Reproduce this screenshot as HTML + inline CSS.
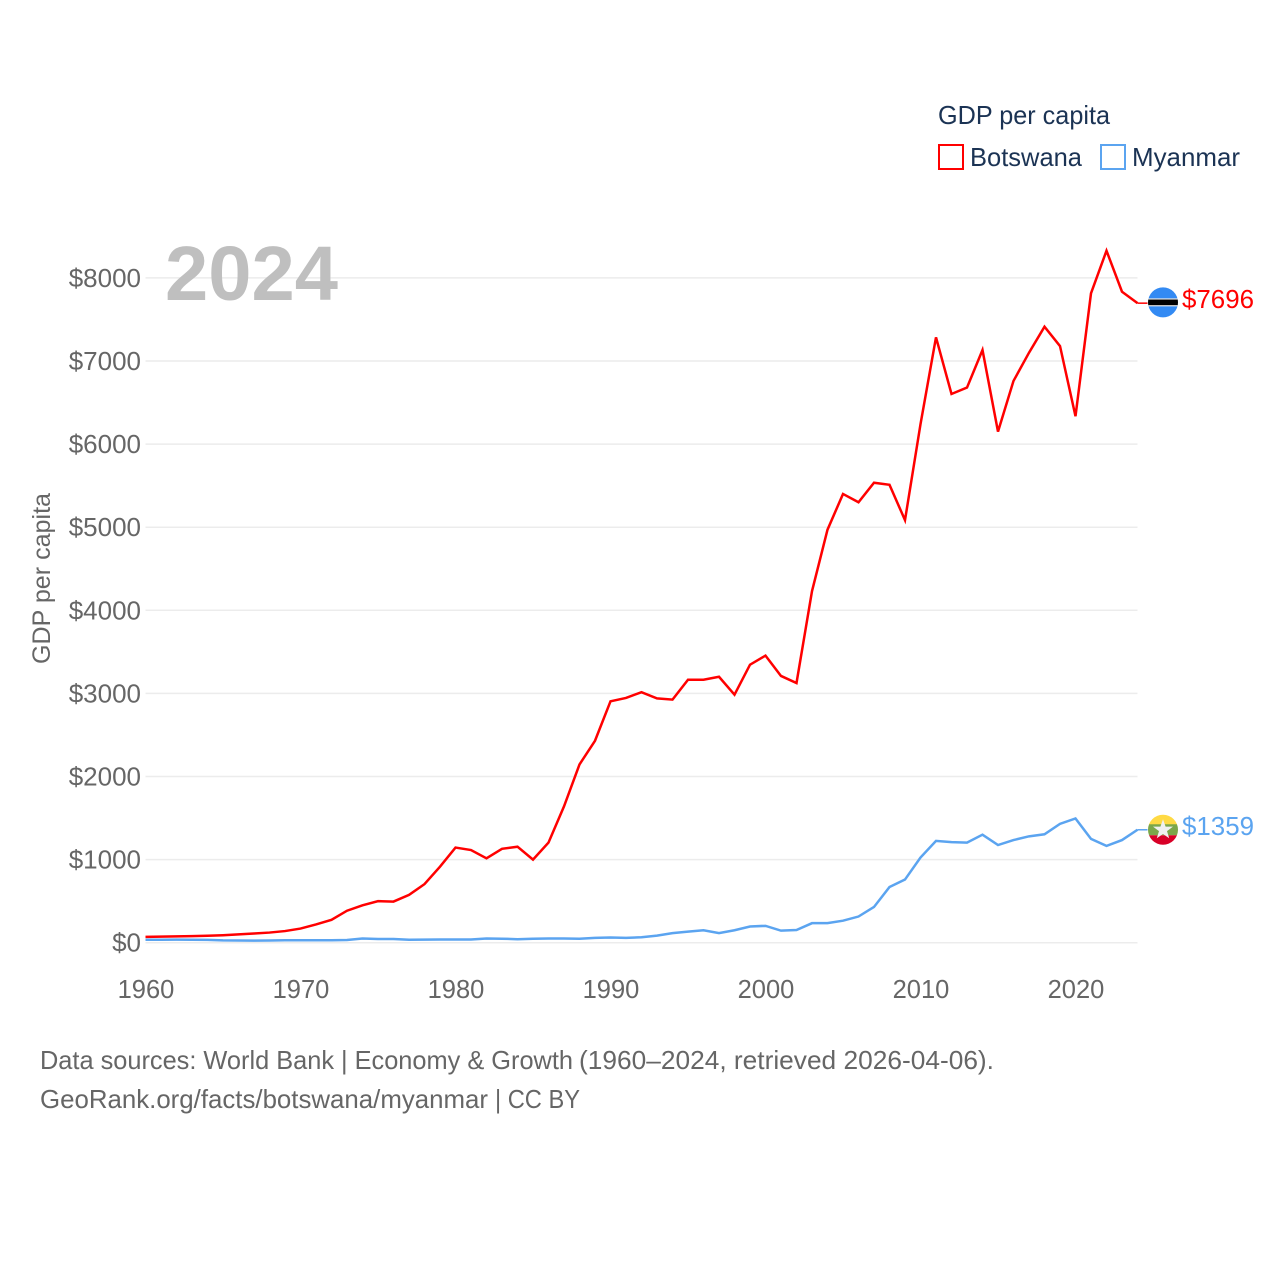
<!DOCTYPE html>
<html lang="en">
<head>
<meta charset="utf-8">
<title>GDP per capita: Botswana and Myanmar</title>
<style>
html,body{margin:0;padding:0;background:#fff;width:1280px;height:1280px;overflow:hidden}
svg{display:block}
text{font-family:"Liberation Sans",sans-serif}
</style>
</head>
<body>
<svg id="chart" xmlns="http://www.w3.org/2000/svg" width="1280" height="1280" viewBox="0 0 1280 1280">
  <defs>
    <clipPath id="clip-bw"><circle id="clip-bw-circle" r="15"/></clipPath>
    <clipPath id="clip-mm"><circle id="clip-mm-circle" r="15"/></clipPath>
  </defs>
  <g id="grid"></g>
  <g id="yticks"></g>
  <g id="xticks"></g>
  <text transform="translate(50,664) rotate(-90)" font-size="25" fill="#666" textLength="171" lengthAdjust="spacingAndGlyphs">GDP per capita</text>
  <text x="165" y="300" font-size="77" font-weight="700" fill="#bfbfbf" textLength="173" lengthAdjust="spacingAndGlyphs">2024</text>
  <g id="series"></g>
  <g id="flags"></g>
  <g>
    <text x="938" y="124" font-size="26" fill="#1b3354" textLength="172" lengthAdjust="spacingAndGlyphs">GDP per capita</text>
    <rect x="939" y="145" width="24" height="24" fill="#fff" stroke="#ff0000" stroke-width="2"/>
    <text x="970" y="166" font-size="26" fill="#1b3354" textLength="112" lengthAdjust="spacingAndGlyphs">Botswana</text>
    <rect x="1101" y="145" width="24" height="24" fill="#fff" stroke="#5ba4f0" stroke-width="2"/>
    <text x="1132" y="166" font-size="26" fill="#1b3354" textLength="108" lengthAdjust="spacingAndGlyphs">Myanmar</text>
  </g>
  <text y="1069" font-size="26" fill="#666"><tspan x="40" textLength="294" lengthAdjust="spacingAndGlyphs">Data sources: World Bank</tspan><tspan x="341" textLength="232" lengthAdjust="spacingAndGlyphs">| Economy &amp; Growth</tspan><tspan x="579" textLength="415" lengthAdjust="spacingAndGlyphs">(1960–2024, retrieved 2026-04-06).</tspan></text>
  <text y="1108" font-size="26" fill="#666"><tspan x="40" textLength="448" lengthAdjust="spacingAndGlyphs">GeoRank.org/facts/botswana/myanmar</tspan><tspan x="495" textLength="85" lengthAdjust="spacingAndGlyphs">| CC BY</tspan></text>
</svg>
<script>
const firstYear = 1960;
const lastYear = 2024;
const yTickValues = [0, 1000, 2000, 3000, 4000, 5000, 6000, 7000, 8000];
const xTickValues = [1960, 1970, 1980, 1990, 2000, 2010, 2020];
const botswanaValues = [70,73,76,79,83,90,100,110,122,140,170,220,275,385,450,500,495,575,705,915,1145,1115,1015,1130,1155,1000,1205,1640,2145,2430,2905,2945,3015,2940,2925,3165,3165,3200,2985,3345,3455,3210,3125,4230,4970,5400,5300,5535,5510,5085,6240,7285,6603,6680,7132,6150,6760,7100,7413,7180,6335,7814,8327,7834,7696];
const myanmarValues = [35,36,37,36,34,28,27,25,27,30,30,30,30,32,50,45,45,35,37,38,38,38,50,48,42,48,50,50,48,58,62,58,66,85,115,133,150,115,150,195,203,145,153,235,235,265,315,430,670,760,1025,1225,1210,1205,1300,1175,1235,1280,1305,1430,1495,1250,1165,1235,1359];

const NS = 'http://www.w3.org/2000/svg';
const X0 = 145.5, XSTEP = 15.5, Y0 = 942.7, YSCALE = 0.0831;
function xScale(year) { return X0 + (year - firstYear) * XSTEP; }
function yScale(v) { return Y0 - v * YSCALE; }
function make(tag, attrs, parent) {
  const el = document.createElementNS(NS, tag);
  for (const k in attrs) el.setAttribute(k, attrs[k]);
  parent.appendChild(el);
  return el;
}
const grid = document.getElementById('grid');
const yticks = document.getElementById('yticks');
const xticks = document.getElementById('xticks');
const seriesG = document.getElementById('series');
const flags = document.getElementById('flags');

yTickValues.forEach(function (v) {
  const line = make('line', {x1: X0, x2: xScale(lastYear), y1: yScale(v), y2: yScale(v), stroke: '#ececec', 'stroke-width': 1.5}, grid);
  
  
  const label = '$' + v;
  const t = make('text', {x: 141, y: yScale(v) + 9, 'text-anchor': 'end', 'font-size': 26, fill: '#666'}, yticks);
  
  
  t.textContent = label;
});
xTickValues.forEach(function (y) {
  const t = make('text', {x: xScale(y) + 0.5, y: 998, 'text-anchor': 'middle', 'font-size': 25.5, fill: '#666'}, xticks);
  
  
  t.textContent = String(y);
});

function drawSeries(values, color, name) {
  const pts = values.map(function (v, i) { return xScale(firstYear + i) + ',' + yScale(v); });
  const line = make('polyline', {points: pts.join(' '), fill: 'none', stroke: color, 'stroke-width': 2.5, 'stroke-linejoin': 'miter'}, seriesG);
  
  
  const last = values[values.length - 1];
  const stub = make('line', {x1: xScale(lastYear), x2: xScale(lastYear) + 10, y1: yScale(last), y2: yScale(last), stroke: color, 'stroke-width': 1.5}, seriesG);
  
  
  const t = make('text', {x: 1182, y: yScale(last) + 5, 'font-size': 25.5, fill: color, textLength: 72, lengthAdjust: 'spacingAndGlyphs'}, seriesG);
  
  
  t.textContent = '$' + last;
}
drawSeries(botswanaValues, '#ff0000', 'botswana');
drawSeries(myanmarValues, '#5ba4f0', 'myanmar');

const FX = 1163;
const bwY = yScale(botswanaValues[botswanaValues.length - 1]) - 0.8;
const mmY = yScale(myanmarValues[myanmarValues.length - 1]);
document.getElementById('clip-bw-circle').setAttribute('cx', FX);
document.getElementById('clip-bw-circle').setAttribute('cy', bwY);
document.getElementById('clip-mm-circle').setAttribute('cx', FX);
document.getElementById('clip-mm-circle').setAttribute('cy', mmY);

const bw = make('g', {'clip-path': 'url(#clip-bw)'}, flags);


make('rect', {x: FX - 16, y: bwY - 16, width: 32, height: 32, fill: '#338af3'}, bw);
make('rect', {x: FX - 16, y: bwY - 4, width: 32, height: 8, fill: '#e8e8e8'}, bw);
make('rect', {x: FX - 16, y: bwY - 2.8, width: 32, height: 5.6, fill: '#000'}, bw);

const mm = make('g', {'clip-path': 'url(#clip-mm)'}, flags);


make('rect', {x: FX - 16, y: mmY - 16, width: 32, height: 11, fill: '#ffda44'}, mm);
make('rect', {x: FX - 16, y: mmY - 5.5, width: 32, height: 11, fill: '#7ba74a'}, mm);
make('rect', {x: FX - 16, y: mmY + 5.5, width: 32, height: 11, fill: '#d80027'}, mm);
make('polygon', {points: [[0,-10.5],[2.6,-3.2],[10,-3.2],[4,1.3],[6.2,8.5],[0,4.2],[-6.2,8.5],[-4,1.3],[-10,-3.2],[-2.6,-3.2]].map(function (p) { return (FX + p[0]) + ',' + (mmY + p[1]); }).join(' '), fill: '#f0f0f0'}, mm);
</script>
</body>
</html>
